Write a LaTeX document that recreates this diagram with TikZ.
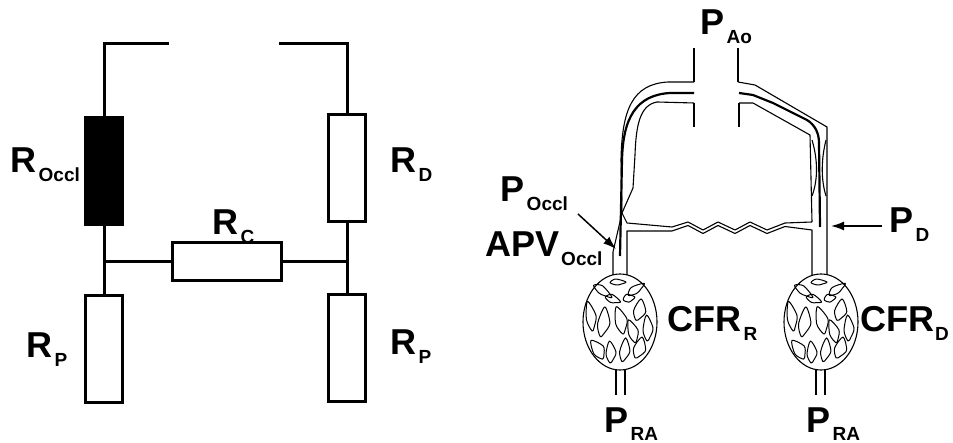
\documentclass[tikz,border=0pt]{standalone}
\usepackage{fontspec}
\setmainfont{Liberation Sans}
\usepackage{tikz}
\usetikzlibrary{arrows.meta}
\usetikzlibrary{positioning}
\tikzstyle{every node}+=[inner sep=0pt]
\tikzstyle{res} = [rectangle, draw, line width=3pt, minimum width=37pt, minimum height=107pt]
\tikzstyle{wire} = [draw, line width=3pt]
\tikzstyle{vessel} = [draw, line width=1.1pt, line join=round]
\tikzstyle{core} = [draw, line width=2.2pt]
\tikzstyle{tag} = [anchor=base west, font=\fontsize{36}{36}\selectfont\bfseries]
\tikzstyle{line} = [draw, line width=1.5pt, -{Latex[length=13pt,width=9pt]}]
\newcommand{\sym}[2]{#1\kern2pt\raisebox{-8.5pt}{\fontsize{19}{19}\selectfont #2}}
\newcommand{\capbed}[2]{%
  \begin{scope}[shift={(#1,#2)}]
    \draw[vessel] (0,0) ellipse (37pt and 48pt);
    \foreach \dx/\dy/\a/\b/\r in {-2/-40/8/3/0, -17/-31/11/4/-35, 16/-33/10/4/35, -7/-23/8/4/-20,
        9/-24/6/4/10, -29/-6/5/15/8, -16/0/6/15/-10, 1/-2/6/14/12, 20/-12/6/11/-15,
        28/6/5/13/0, 13/9/5/12/15, -22/27/6/11/30, -9/30/5/11/0, 5/28/5/12/-10, 20/26/6/11/-20}
      \draw[vessel, line width=1pt, shift={(\dx,\dy)}, rotate=\r]
        plot[smooth cycle] coordinates {(\a,0) (0.4*\a,0.7*\b) (-0.2*\a,\b) (-\a,0.2*\b) (-0.3*\a,-\b)};
  \end{scope}}

\begin{document}
\begin{tikzpicture}[x=1pt, y=-1pt]
    \useasboundingbox (0,0) rectangle (953,443);
    % Resistor network
    \node [res, fill=black] (rocc) at (104,171) {};
    \node [res, below=68pt of rocc] (rp1) {};
    \node [res] (rd) at (347,168) {};
    \node [res, below=70pt of rd] (rp2) {};
    \node [res, minimum width=109pt, minimum height=38pt] (rc) at (227,261.5) {};
    \coordinate (tl) at (169,44);
    \coordinate (tr) at (279,44);
    % Draw wires
    \path [wire] (tl) -| (rocc.north);
    \path [wire] (tr) -| (rd.north);
    \path [wire] (rocc.south) -- (rp1.north);
    \path [wire] (rd.south) -- (rp2.north);
    \path [wire] (rc.west) -- (rc.west -| rocc.south);
    \path [wire] (rc.east) -- (rc.east -| rd.south);
    % Labels
    \node [tag] (roccl) at (10.5,173) {\sym{R}{Occl}};
    \node [tag] (rdl) at (390.5,173) {\sym{R}{D}};
    \node [tag] (rcl) at (212.5,235) {\sym{R}{C}};
    \node [tag] (rp1l) at (26.5,358) {\sym{R}{P}};
    \node [tag] (rp2l) at (390.5,355) {\sym{R}{P}};

    % Coronary tree
    \path [vessel] (694,48) -- (694,82);
    \path [vessel] (738,48) -- (738,82);
    \path [vessel] (694,103) -- (694,127);
    \path [vessel] (739,103) -- (739,127);
    % left branch
    \path [vessel] (694,82) -- (668,82) .. controls (632,84) and (622,110) .. (621,160) -- (622,213) -- (613,252) -- (613,275);
    \path [core] (694,93) -- (670,93) .. controls (636,95) and (623,118) .. (622,160) -- (620,256);
    \path [vessel] (694,103) -- (657,102) .. controls (640,105) and (636,125) .. (635,155) -- (633,188) -- (622,213);
    % right branch
    \path [vessel] (738,82) -- (755,85) -- (827,127) -- (827,275);
    \path [core] (739,93) -- (753,95) -- (773,103) -- (807,120) .. controls (815,125) and (819,133) .. (819,143) -- (820,227);
    \path [vessel] (739,103) -- (753,103) -- (810,135) -- (812,222);
    \path [vessel] (812,140) .. controls (818,160) and (818,180) .. (812,196);
    \path [vessel] (826,140) .. controls (821,160) and (821,180) .. (826,196);
    % collateral
    \path [vessel] (622,213) -- (627,223) -- (672,227) -- (688,222) -- (703,230) -- (718,222) -- (735,230)
        -- (750,222) -- (767,230) -- (785,223) -- (812,222);
    \path [vessel] (627,275) -- (627,231) -- (672,231) -- (688,225.5) -- (703,233.5) -- (718,225.5) -- (735,233.5)
        -- (750,225.5) -- (767,233.5) -- (785,226.5) -- (812,230) -- (812,275);
    % capillary beds
    \capbed{620}{322}
    \capbed{821}{322}
    \path [vessel] (616,369) -- (616,395);
    \path [vessel] (625,369) -- (625,395);
    \path [vessel] (816,369) -- (816,395);
    \path [vessel] (825,369) -- (825,395);
    % pressure labels
    \node [tag] (pao) at (700.5,35) {\sym{P}{Ao}};
    \node [tag] (pocc) at (500.5,202) {\sym{P}{Occl}};
    \node [tag] (apv) at (485,257) {\sym{APV}{Occl}};
    \node [tag] (pd) at (889.5,233) {\sym{P}{D}};
    \node [tag] (cfrr) at (667.5,332) {\sym{CFR}{R}};
    \node [tag] (cfrd) at (860,332) {CFR\kern1pt\raisebox{-8.5pt}{\fontsize{19}{19}\selectfont D}};
    \node [tag] (pra1) at (604.5,432) {\sym{P}{RA}};
    \node [tag] (pra2) at (806.5,432) {\sym{P}{RA}};
    % Draw arrows
    \coordinate (occtail) at (578,214);
    \coordinate (occtip) at (616,249);
    \coordinate (pdtail) at (882,226);
    \coordinate (pdtip) at (831,226);
    \path [line] (occtail) -- (occtip);
    \path [line] (pdtail) -- (pdtip);
\end{tikzpicture}
\end{document}
